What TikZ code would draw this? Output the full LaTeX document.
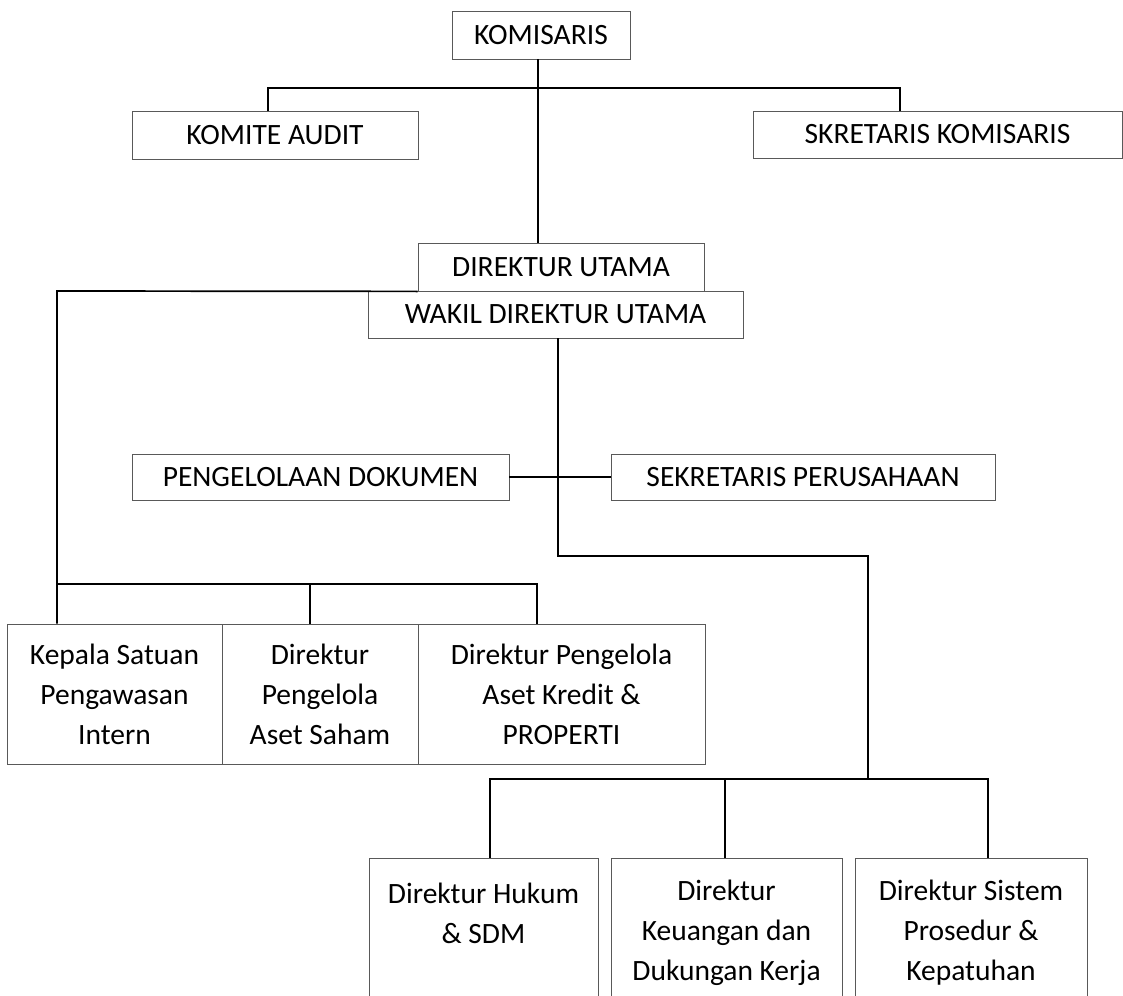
\documentclass[tikz,border=0pt]{standalone}
\usepackage{fontspec}
\setmainfont{Carlito}
\begin{document}
\begin{tikzpicture}[x=1pt,y=-1pt,
  box/.style={draw=black!65, line width=0.8pt, inner sep=0pt, align=center,
              font=\fontsize{29.5}{40}\selectfont},
  conn/.style={line width=1.7pt, black}]
\useasboundingbox (0,0) rectangle (1123,995);
\clip (0,0) rectangle (1123,995);

% board level
\node[box, minimum width=178pt, minimum height=48pt] (kom)   at (541,35)    {KOMISARIS};
\node[box, minimum width=286pt, minimum height=48pt] (audit) at (275,135)   {KOMITE AUDIT};
\node[box, minimum width=369pt, minimum height=47pt] (skom)  at (937.5,134.5) {SKRETARIS KOMISARIS};

% directors
\node[box, minimum width=286pt, minimum height=48pt] (dirut) at (561,267)   {DIREKTUR UTAMA};
\node[box, minimum width=375pt, minimum height=47pt] (wakil) at (555.5,314.5) {WAKIL DIREKTUR UTAMA};

% staff units
\node[box, minimum width=377pt, minimum height=46pt] (dok) at (320.5,477) {PENGELOLAAN DOKUMEN};
\node[box, minimum width=384pt, minimum height=46pt] (sek) at (803,477)   {SEKRETARIS PERUSAHAAN};

% left group
\node[box, minimum width=215pt, minimum height=140pt] (ksp)  at (114.5,694) {Kepala Satuan\\Pengawasan\\Intern};
\node[box, minimum width=196pt, minimum height=140pt] (dpas) at (320,694)   {Direktur\\Pengelola\\Aset Saham};
\node[box, minimum width=287pt, minimum height=140pt] (dpak) at (561.5,694) {Direktur Pengelola\\Aset Kredit \&\\PROPERTI};

% right group
\node[box, minimum width=229pt, minimum height=150pt] (dhs)  at (483.5,933) {Direktur Hukum\\\& SDM\\\mbox{}};
\node[box, minimum width=231pt, minimum height=150pt] (dkd)  at (726.5,933) {Direktur\\Keuangan dan\\Dukungan Kerja};
\node[box, minimum width=232pt, minimum height=150pt] (dspk) at (971,933)   {Direktur Sistem\\Prosedur \&\\Kepatuhan};

% bus points
\coordinate (spine) at (538,88);
\coordinate (ca)    at (268,88);
\coordinate (cs)    at (900,88);
\coordinate (lx)    at (57,291);
\coordinate (lbus)  at (57,584);
\coordinate (mbus)  at (310,584);
\coordinate (rbus)  at (537,584);
\coordinate (wx)    at (558,556);
\coordinate (wturn) at (868,556);
\coordinate (bmid)  at (868,779);
\coordinate (b1)    at (490,779);
\coordinate (b2)    at (725,779);
\coordinate (b3)    at (988,779);

% connectors
\draw[conn] (kom.south -| spine) -- (dirut.north -| spine);
\draw[conn] (audit.north -| ca) -- (ca) -- (cs) -- (skom.north -| cs);

\draw[conn] (dirut.south west) -- (lx) -- (lbus) -- (ksp.north -| lbus);
\draw[conn] (lbus) -- (rbus) -- (dpak.north -| rbus);
\draw[conn] (mbus) -- (dpas.north -| mbus);

\draw[conn] (dok.east) -- (sek.west);
\draw[conn] (wakil.south -| wx) -- (wx) -- (wturn) -- (bmid);
\draw[conn] (dhs.north -| b1) -- (b1) -- (b3) -- (dspk.north -| b3);
\draw[conn] (b2) -- (dkd.north -| b2);
\end{tikzpicture}
\end{document}
